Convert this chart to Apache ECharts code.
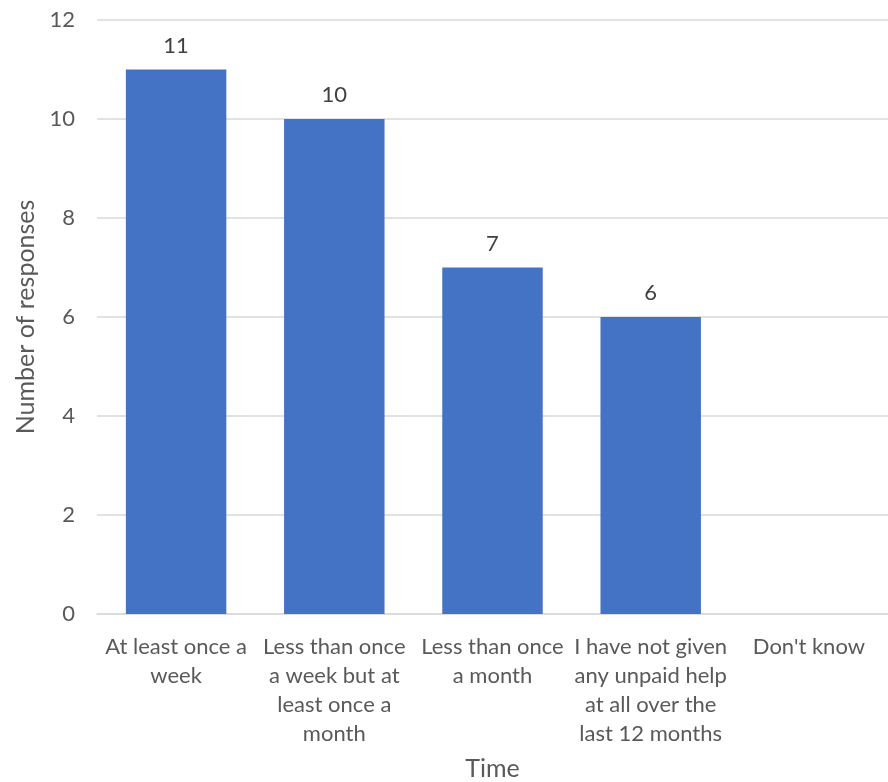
<!DOCTYPE html>
<html>
<head>
<meta charset="utf-8">
<script src="https://cdn.jsdelivr.net/npm/echarts@6/dist/echarts.min.js"></script>
<style>
  html, body { margin: 0; padding: 0; background: #ffffff; }
  #chart { width: 888px; height: 782px; }
</style>
</head>
<body>
<div id="chart"></div>
<script>
// Frequency of unpaid help given over the last 12 months
const categories = [
  'At least once a\nweek',
  'Less than once\na week but at\nleast once a\nmonth',
  'Less than once\na month',
  'I have not given\nany unpaid help\nat all over the\nlast 12 months',
  "Don't know"
];
const responses = [11, 10, 7, 6, 0];
const yTicks = { min: 0, max: 12, interval: 2 };

const textColor = '#595959';
const fontFamily = 'Lato, "Open Sans", sans-serif';

const chart = echarts.init(document.getElementById('chart'), null, { renderer: 'canvas' });
chart.setOption({
  animation: false,
  backgroundColor: '#ffffff',
  grid: {
    left: 97, right: 0, top: 20, bottom: 168,
    containLabel: false,
    outerBoundsMode: 'none'
  },
  xAxis: {
    type: 'category',
    data: categories,
    name: 'Time',
    nameLocation: 'middle',
    nameGap: 142,
    nameTextStyle: { color: textColor, fontSize: 25, fontFamily },
    axisLine: { show: true, lineStyle: { color: '#d9d9d9', width: 1.5 } },
    axisTick: { show: false },
    axisLabel: {
      color: textColor, fontSize: 22, fontFamily, lineHeight: 29,
      margin: 18, interval: 0
    }
  },
  yAxis: {
    type: 'value',
    min: yTicks.min, max: yTicks.max, interval: yTicks.interval,
    name: 'Number of responses',
    nameLocation: 'middle',
    nameGap: 58,
    nameRotate: 90,
    nameTextStyle: { color: textColor, fontSize: 25, fontFamily },
    axisLine: { show: false },
    axisTick: { show: false },
    axisLabel: { color: textColor, fontSize: 22, fontFamily, margin: 22 },
    splitLine: { lineStyle: { color: '#d9d9d9', width: 1.5 } }
  },
  series: [{
    type: 'bar',
    data: responses,
    barWidth: '63.5%',
    itemStyle: { color: '#4472c4' },
    label: {
      show: true,
      position: 'top',
      distance: 13,
      color: '#404040',
      fontSize: 22,
      fontFamily,
      formatter: p => (p.value === 0 ? '' : String(p.value))
    }
  }]
});
</script>
</body>
</html>
